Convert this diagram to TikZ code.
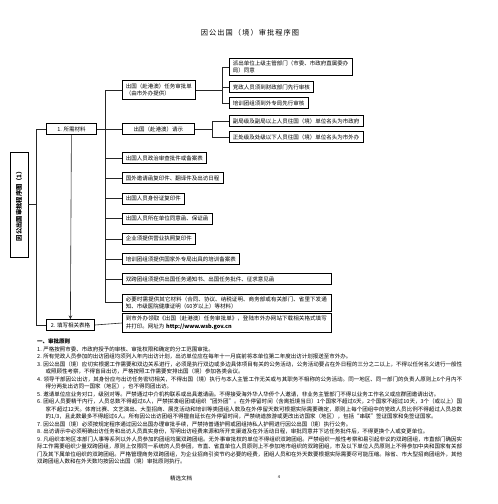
\documentclass[tikz,border=0pt]{standalone}
\usepackage{fontspec}
\setmainfont{Noto Sans CJK SC}
\usetikzlibrary{arrows, positioning}
\XeTeXlinebreaklocale "zh"
\XeTeXlinebreakskip=0pt plus 1pt
\newcommand{\clause}[1]{\par\hangindent=8.5pt\hangafter=1 #1}

\begin{document}
\begin{tikzpicture}[x=1pt, y=-1pt,
  every node/.style={font=\fontsize{5.5}{7.5}\selectfont},
  item/.style={rectangle, draw=black, line width=0.8pt, fill=white, anchor=west, align=left, inner xsep=3.5pt, inner ysep=2.5pt, minimum height=11pt},
  wide/.style={item, text width=202pt},
  line/.style={draw=black!85, line width=0.6pt},
  arrow/.style={line, ->, >=stealth}]

  \useasboundingbox (0,0) rectangle (498,504);

  % Title
  \node (title) at (250,33) {\fontsize{7.2}{8}\selectfont\addfontfeature{LetterSpace=15}因公出国（境）审批程序图};

  % Nodes
  \node (sheet) [draw=black, line width=0.8pt, rotate=90, minimum width=105pt, minimum height=18pt, inner sep=0pt, font=\fontsize{6.3}{7}\selectfont\bfseries] at (19,204.5) {因公出国审批程序图（1）};
  \node (need) [item, minimum width=50pt] at (46,129) {1. 所需材料};
  \node (fill) [item, minimum width=48pt] at (46,325) {2. 填写相关表格};

  \node (task) [item, inner ysep=3.5pt] at (122,90) {出国（赴港澳）任务审批单\\（由市外办提供）};
  \node (supA) [item] at (229,67) {派出单位上级主管部门（市委、市政府直属委办\\局）同意};
  \node (supB) [item] at (229,87) {党政人员须到财政部门先行审核};
  \node (supC) [item] at (229,103) {培训团组须到外专局先行审核};

  \node (ask) [item, minimum width=72pt] at (122,129) {出国（赴港澳）请示};
  \node (rankA) [item] at (229,121) {副局级及副局以上人员往国（境）单位名头为市政府};
  \node (rankB) [item] at (229,137) {正处级及处级以下人员往国（境）单位名头为市外办};

  \node (pol) [item] at (122,158) {出国人员政治审查批件或备案表};
  \node (inv) [item, below=8.4pt of pol.south west, anchor=north west] {国外邀请函复印件、翻译件及出访日程};
  \node (id) [item, below=8.4pt of inv.south west, anchor=north west] {出国人员身份证复印件};
  \node (consent) [item, below=8.4pt of id.south west, anchor=north west] {出国人员所在单位同意函、保证函};
  \node (biz) [item, below=8.4pt of consent.south west, anchor=north west] {企业须提供营业执照复印件};
  \node (train) [item, below=8.4pt of biz.south west, anchor=north west] {培训团组须提供国家外专局出具的培训备案表};
  \node (cross) [wide, below=8.4pt of train.south west, anchor=north west] {双跨团组须提供出国任务通知书、出国任务批件、征求意见函};
  \node (extra) [wide, below=8.4pt of cross.south west, anchor=north west] {必要时需提供其它材料（合同、协议、纳税证明、商务部或有关部门、省里下发通知、市级医院健康证明（60岁以上）等材料）};
  \node (site) [wide] at (122,323) {到市外办领取《出国（赴港澳）任务审批单》，登陆市外办网站下载相关格式填写并打印。网址为 \textbf{http://www.wsb.gov.cn}};

  % Arrows
  \coordinate (trunk) at (36,0);
  \coordinate (bus) at (105,0);
  \coordinate (bus2) at (222,0);
  \coordinate (bus3) at (212,0);

  \draw [line] (sheet.south) -- (sheet.south -| trunk);
  \draw [line] (need.west) -| (trunk |- fill.west) -- (fill.west);
  \draw [arrow] (need.south) -- (fill.north);
  \draw [line] (need.east) -- (ask.west);
  \draw [line] (fill.east) -- (site.west);

  \draw [line] (bus |- task.west) -- (bus |- extra.west);
  \foreach \n in {task, pol, inv, id, consent, biz, train, cross, extra}
    \draw [line] (bus |- \n.west) -- (\n.west);

  \draw [line] (task.east) -- (task.east -| bus2);
  \draw [line] (bus2 |- supA.west) -- (bus2 |- supC.west);
  \foreach \n in {supA, supB, supC}
    \draw [line] (bus2 |- \n.west) -- (\n.west);

  \draw [line] (ask.east) -- (ask.east -| bus3);
  \draw [line] (bus3 |- rankA.west) -- (bus3 |- rankB.west);
  \foreach \n in {rankA, rankB}
    \draw [line] (bus3 |- \n.west) -- (\n.west);

  % Principles
  \node (rules) [anchor=north west, inner sep=0pt, text width=425pt, align=justify] at (37,339) {%
    \parindent=0pt
    \textbf{一、审批原则}
    \clause{1. 严格按照市委、市政府授予的审核、审批权限和确定的分工范围审批。}
    \clause{2. 所有党政人员参加的出访团组均须列入年内出访计划，出访单位应在每年十一月底前将本单位第二年度出访计划报送至市外办。}
    \clause{3. 因公出国（境）应切实根据工作需要和双边关系进行，必须是执行双边或多边具体项目有关的公务活动，公务活动要占在外日程的三分之二以上，不得以任何名义进行一般性或照顾性考察，不得盲目出访，严格按照工作需要安排出国（境）参加各类会议。}
    \clause{4. 领导干部因公出访，其身份应与出访任务密切相关，不得出国（境）执行与本人主管工作无关或与其职务不相称的公务活动。同一地区、同一部门的负责人原则上6个月内不得分两批出访同一国家（地区），也不得同团出访。}
    \clause{5. 邀请单位应业务对口，级别对等。严禁通过中介机构联系或出具邀请函。不得接受海外华人华侨个人邀请，非业务主管部门不得以业务工作名义或应群团邀请出访。}
    \clause{6. 团组人员要精干内行，人员总数不得超过6人，严禁拼凑组团或组织“团外团”。在外停留时间（含离抵境当日）1个国家不超过6天，2个国家不超过10天，3个（或以上）国家不超过12天。体育比赛、文艺演出、大型招商、展览活动和培训等类团组人数及在外停留天数可根据实际需要确定，原则上每个团组中的党政人员比例不得超过人员总数的1/3，且此数最多不得超过6人。所有因公出访团组不得擅自延长在外停留时间，严禁绕道旅游或更改出访国家（地区），包括“串联”签证国家和免签证国家。}
    \clause{7. 因公出国（境）必须按规定程序通过因公出国办理审批手续，严禁持普通护照或团组持私人护照进行因公出国（境）执行公务。}
    \clause{8. 出访请示中必须明确出访任务和出访人员真实身份，写明出访经费来源和所开支渠道及在外活动日程，审批同意并下达任务批件后，不得更换个人或变更单位。}
    \clause{9. 凡组织本地区本部门人事等系列以外人员参加的团组均属双跨团组。无外事审批权的单位不得组织双跨团组。严禁组织一般性考察和易引起非议的双跨团组，市直部门确因实际工作需要组织少量双跨团组，原则上仅限同一系统的人员参团，市直、省直单位人员原则上不参加地市组织的双跨团组，市及以下单位人员原则上不得参加中央和国家有关部门及其下属单位组织的双跨团组。严格管理商务双跨团组，为企业招商引资节约必要的经费，团组人员和在外天数要根据实际需要尽可能压缩。除省、市大型招商团组外，其他双跨团组人数和在外天数均按因公出国（境）审批原则执行。}
  };

  % Footer
  \node (foot) at (181,478) {精选文档};
  \node (pageno) at (279,477) {\fontsize{4}{4}\selectfont 4};

\end{tikzpicture}
\end{document}
